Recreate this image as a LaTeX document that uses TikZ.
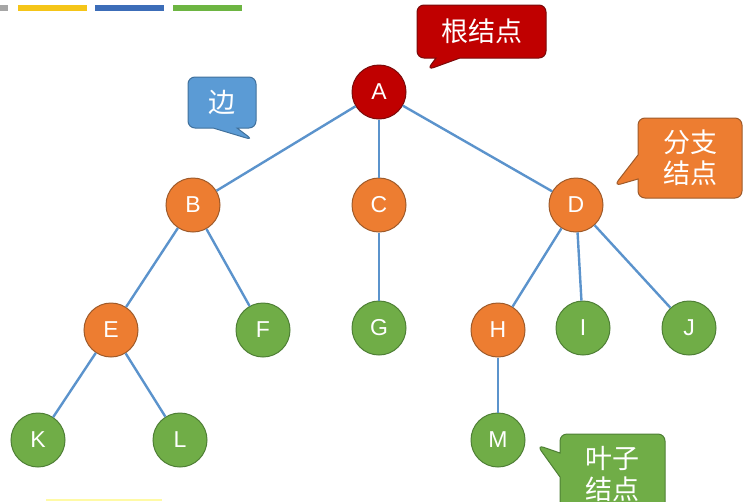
\documentclass[tikz,border=0pt]{standalone}
\usepackage{fontspec}
\setmainfont{Liberation Sans}
\newfontfamily\cjk{Noto Sans CJK SC}
\usetikzlibrary{shapes.callouts}
\definecolor{edgeblue}{HTML}{5B93CC}
\definecolor{ored}{HTML}{C00000}
\definecolor{oredb}{HTML}{7A0A0A}
\definecolor{oorange}{HTML}{ED7D31}
\definecolor{oorangeb}{HTML}{9E5A2A}
\definecolor{ogreen}{HTML}{70AD47}
\definecolor{ogreenb}{HTML}{4E7F35}
\definecolor{oblue}{HTML}{5B9BD5}
\definecolor{obblue}{HTML}{41719C}
\definecolor{oyellow}{HTML}{F5C518}
\definecolor{bblue}{HTML}{3C6DB8}
\definecolor{bgreen}{HTML}{6DB542}
\tikzset{
  tn/.style={circle, minimum size=54pt, inner sep=0pt, line width=1pt, text=white, font=\fontsize{23}{23}\selectfont},
  rootn/.style={tn, fill=ored, draw=oredb},
  branchn/.style={tn, fill=oorange, draw=oorangeb},
  leafn/.style={tn, fill=ogreen, draw=ogreenb},
  edge/.style={draw=edgeblue, line width=2.4pt},
  call/.style={rectangle callout, rounded corners=7pt, line width=1pt, text=white, align=center, inner sep=0pt, callout pointer width=24pt, font=\cjk\fontsize{27}{31}\selectfont},
  bar/.style={line width=6pt}
}
\begin{document}
\begin{tikzpicture}[x=1pt,y=-1pt]
\useasboundingbox (0,0) rectangle (744,501);
% top bars
\draw[bar, gray!70] (0,8) -- (8,8);
\draw[bar, oyellow] (18,8) -- (87,8);
\draw[bar, bblue] (95,8) -- (164,8);
\draw[bar, bgreen] (173,8) -- (242,8);
\draw[line width=1.5pt, yellow!35] (46,500) -- (162,500);
% nodes
\node[rootn] (A) at (379,92) {A};
\node[branchn] (B) at (193,205) {B};
\node[branchn] (C) at (379,205) {C};
\node[branchn] (D) at (576,205) {D};
\node[branchn] (E) at (111,330) {E};
\node[leafn] (F) at (263,330) {F};
\node[leafn] (G) at (379,328) {G};
\node[branchn] (H) at (498,330) {H};
\node[leafn] (I) at (583,328) {I};
\node[leafn] (J) at (689,328) {J};
\node[leafn] (K) at (38,440) {K};
\node[leafn] (L) at (180,440) {L};
\node[leafn] (M) at (498,440) {M};
% edges
\path[edge] (A) -- (B);
\path[edge] (A) -- (C);
\path[edge] (A) -- (D);
\path[edge] (B) -- (E);
\path[edge] (B) -- (F);
\path[edge] (C) -- (G);
\path[edge] (D) -- (H);
\path[edge] (D) -- (I);
\path[edge] (D) -- (J);
\path[edge] (E) -- (K);
\path[edge] (E) -- (L);
\path[edge] (H) -- (M);
% callouts
\node[call, fill=ored, draw=oredb, minimum width=129pt, minimum height=53pt,
  callout absolute pointer={(427,70)}] (root) at (481.5,31.5) {根结点};
\node[call, fill=oblue, draw=obblue, minimum width=68pt, minimum height=51pt,
  callout absolute pointer={(253,140)}] (bian) at (222,102.5) {边};
\node[call, fill=oorange, draw=oorangeb, minimum width=104pt, minimum height=80pt,
  callout absolute pointer={(614,186)}] (branch) at (690,158) {分支\\结点};
\node[call, fill=ogreen, draw=ogreenb, minimum width=105pt, minimum height=80pt,
  callout absolute pointer={(537,445)}] (leaf) at (612.5,474) {叶子\\结点};
\end{tikzpicture}
\end{document}
